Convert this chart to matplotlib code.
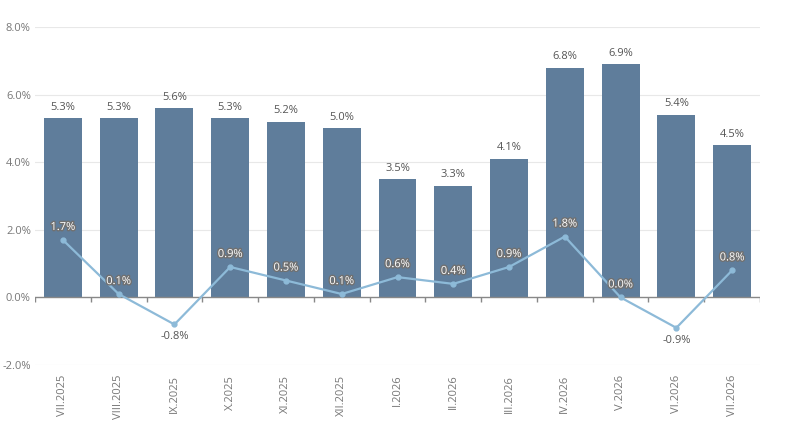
import matplotlib.pyplot as plt
import matplotlib.patheffects as pe

# ====== 資料 ======
months = ["VII.2025", "VIII.2025", "IX.2025", "X.2025", "XI.2025", "XII.2025",
          "I.2026", "II.2026", "III.2026", "IV.2026", "V.2026", "VI.2026", "VII.2026"]
yoy = [5.3, 5.3, 5.6, 5.3, 5.2, 5.0, 3.5, 3.3, 4.1, 6.8, 6.9, 5.4, 4.5]
mom = [1.7, 0.1, -0.8, 0.9, 0.5, 0.1, 0.6, 0.4, 0.9, 1.8, 0.0, -0.9, 0.8]
y_ticks = [-2, 0, 2, 4, 6, 8]

BAR_COLOR = "#5f7d9b"
LINE_COLOR = "#8dbad8"
TEXT_COLOR = "#555555"
AXIS_TEXT = "#777777"

plt.rcParams["font.family"] = ["Open Sans", "DejaVu Sans"]

fig = plt.figure(figsize=(8, 4.45), dpi=100)
ax = fig.add_axes([35 / 800, 1 - 365 / 445, 725 / 800, 338 / 445])

x = list(range(len(months)))

for v in y_ticks:
    if v != 0:
        ax.axhline(v, color="#e8e8e8", linewidth=0.8, zorder=0)

bars = ax.bar(x, yoy, width=0.68, color=BAR_COLOR, zorder=2)
for xi, v in zip(x, yoy):
    ax.annotate(f"{v:.1f}%", (xi, v), xytext=(0, 4), textcoords="offset points",
                ha="center", va="bottom", fontsize=8, color=TEXT_COLOR)

# 0 軸線與分類刻度
ax.axhline(0, color="#888888", linewidth=1.0, zorder=3)
bounds = [i - 0.5 for i in range(len(months) + 1)]
ax.vlines(bounds, -0.15, 0, color="#888888", linewidth=1.0, zorder=3)

ax.plot(x, mom, color=LINE_COLOR, linewidth=1.6, marker="o", markersize=3.5,
        markerfacecolor=LINE_COLOR, markeredgecolor=LINE_COLOR, zorder=4)
outline = [pe.withStroke(linewidth=2, foreground="#707070")]
for xi, v in zip(x, mom):
    if v < 0:
        ax.annotate(f"{v:.1f}%", (xi, v), xytext=(0, -5), textcoords="offset points",
                    ha="center", va="top", fontsize=8, color=TEXT_COLOR, zorder=5)
    else:
        t = ax.annotate(f"{v:.1f}%", (xi, v), xytext=(0, 5), textcoords="offset points",
                        ha="center", va="bottom", fontsize=8, color="white", zorder=5)
        t.set_path_effects(outline)

ax.set_xlim(-0.5, len(months) - 0.5)
ax.set_ylim(-2, 8)
ax.set_yticks(y_ticks)
ax.set_yticklabels([f"{v:.1f}%" for v in y_ticks], fontsize=8, color=AXIS_TEXT)
ax.set_xticks(x)
ax.set_xticklabels(months, rotation=90, fontsize=8, color=AXIS_TEXT)
ax.tick_params(axis="both", length=0)
ax.tick_params(axis="x", pad=7)
ax.tick_params(axis="y", pad=3)
for s in ax.spines.values():
    s.set_visible(False)

fig.savefig("out.png", dpi=100)
